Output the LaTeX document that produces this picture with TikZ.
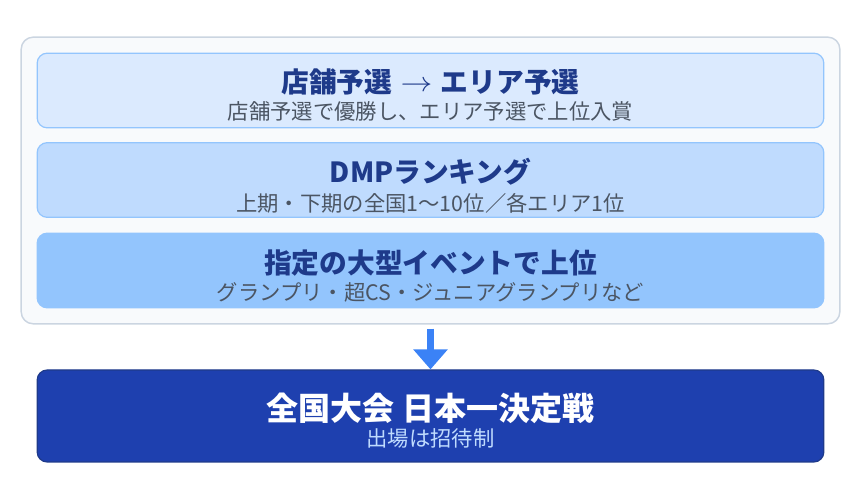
\documentclass[tikz,border=0pt]{standalone}
\usepackage{fontspec}
\setmainfont{Noto Sans CJK JP}
\usetikzlibrary{arrows.meta}
\definecolor{outerfill}{HTML}{F8FAFC}
\definecolor{outerline}{HTML}{CBD5E1}
\definecolor{boxline}{HTML}{93C5FD}
\definecolor{fillA}{HTML}{DBEAFE}
\definecolor{fillB}{HTML}{BFDBFE}
\definecolor{fillC}{HTML}{93C5FD}
\definecolor{titlecol}{HTML}{1E3A8A}
\definecolor{subcol}{HTML}{4B5563}
\definecolor{finalfill}{HTML}{1E40AF}
\definecolor{finalline}{HTML}{1E3A8A}
\definecolor{finalsub}{HTML}{BFDBFE}
\definecolor{arrowcol}{HTML}{3B82F6}
\begin{document}
\begin{tikzpicture}[x=0.75pt,y=-0.75pt,
  outerbox/.style={draw=outerline,fill=outerfill,line width=1.1pt,rounded corners=9pt,minimum width=614pt,minimum height=215pt,inner sep=0pt},
  stagebox/.style={draw=boxline,line width=0.9pt,rounded corners=7.5pt,minimum width=590pt,minimum height=56pt,inner sep=0pt},
  finalbox/.style={draw=finalline,fill=finalfill,line width=0.9pt,rounded corners=7.5pt,minimum width=590pt,minimum height=69pt,inner sep=0pt},
  titletext/.style={text=titlecol,font=\fontsize{20.8pt}{24pt}\selectfont\bfseries,inner sep=0pt},
  subtext/.style={text=subcol,font=\fontsize{16pt}{19pt}\selectfont,inner sep=0pt},
  finaltitle/.style={text=white,font=\fontsize{24pt}{28pt}\selectfont\bfseries,inner sep=0pt},
  finalsubtext/.style={text=finalsub,font=\fontsize{16pt}{19pt}\selectfont,inner sep=0pt},
  flow/.style={draw=arrowcol,line width=4.8pt,-{Triangle[width=25pt,length=15pt]},shorten <=3pt}
]
\useasboundingbox (0,0) rectangle (860,498);
\node[outerbox] (outer) at (430.5,180.5) {};
\node[stagebox,fill=fillA] (s1) at (430.5,90.5) {};
\node[stagebox,fill=fillB] (s2) at (430.5,180) {};
\node[stagebox,fill=fillC] (s3) at (430.5,270.5) {};
\node[finalbox] (final) at (430.5,416) {};
\node[titletext] (t1) at (430.5,82) {店舗予選\hspace{0.3em}\raisebox{0.05em}{\scalebox{1.15}[1]{$\rightarrow$}}\hspace{0.3em}エリア予選};
\node[subtext] (u1) at (430.5,111) {店舗予選で優勝し、エリア予選で上位入賞};
\node[titletext] (t2) at (430.5,172) {DMPランキング};
\node[subtext] (u2) at (430.5,203) {上期・下期の全国1〜10位／各エリア1位};
\node[titletext] (t3) at (430.5,263) {指定の大型イベントで上位};
\node[subtext] (u3) at (430.5,292) {グランプリ・超CS・ジュニアグランプリなど};
\node[finaltitle] (t4) at (430.5,408) {全国大会\ 日本一決定戦};
\node[finalsubtext] (u4) at (430.5,438) {出場は招待制};
\draw[flow] (outer.south) -- (final.north);
\end{tikzpicture}
\end{document}
